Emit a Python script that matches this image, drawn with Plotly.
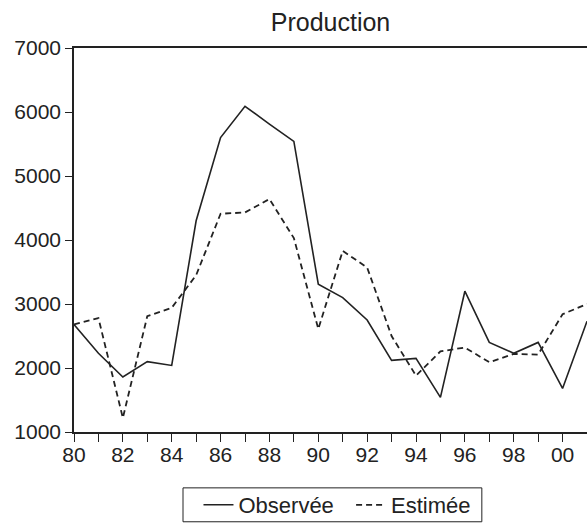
import plotly.graph_objects as go

years = list(range(1980, 2002))
observee = [2680, 2230, 1860, 2100, 2040, 4300, 5600, 6090, 5810, 5540, 3310,
            3100, 2750, 2120, 2150, 1540, 3200, 2400, 2230, 2400, 1680, 2730]
estimee = [2680, 2780, 1220, 2810, 2940, 3450, 4410, 4430, 4640, 4030, 2610,
           3830, 3570, 2500, 1880, 2260, 2320, 2090, 2220, 2210, 2840, 3000]
tick_labels = [str(y % 100).zfill(2) if y % 2 == 0 else "" for y in years]
y_ticks = [1000, 2000, 3000, 4000, 5000, 6000, 7000]

ink = "#222222"
fig = go.Figure()
fig.add_trace(go.Scatter(x=years, y=observee, mode="lines",
                         name="Observée\u00a0\u00a0",
                         line=dict(color=ink, width=1.6)))
fig.add_trace(go.Scatter(x=years, y=estimee, mode="lines", name="Estimée",
                         line=dict(color=ink, width=1.8, dash="6px,4px")))

W, H = 587, 526
fig.update_layout(
    width=W, height=H,
    margin=dict(l=74, r=0, t=48, b=93),
    paper_bgcolor="white", plot_bgcolor="white",
    font=dict(family="Liberation Sans, Arial, sans-serif", color=ink, size=21),
    title=dict(text="Production", x=0.5, xref="paper", y=1 - 22 / H,
               yref="container", xanchor="center", yanchor="middle",
               font=dict(size=25, color=ink)),
    showlegend=True,
    legend=dict(orientation="h", x=0.5136, xanchor="center", y=-0.19,
                yanchor="middle", borderwidth=0,
                font=dict(size=22, color=ink), bgcolor="rgba(0,0,0,0)"),
    shapes=[dict(type="rect", xref="paper", yref="paper",
                 x0=0.2125, x1=0.795, y0=-0.2338, y1=-0.1455,
                 line=dict(color=ink, width=1), fillcolor="rgba(0,0,0,0)",
                 layer="above")],
    xaxis=dict(range=[1980, 2001], tickvals=years, ticktext=tick_labels,
               ticks="outside", ticklen=8, tickwidth=1, tickcolor=ink,
               ticklabelstandoff=-5,
               showline=True, linecolor=ink, linewidth=1.5, mirror=True,
               showgrid=False, zeroline=False),
    yaxis=dict(range=[1000, 7000], tickvals=y_ticks,
               ticks="outside", ticklen=7, tickwidth=1, tickcolor=ink,
               showline=True, linecolor=ink, linewidth=1.5,
               showgrid=False, zeroline=False),
)

fig.write_html(
    "out.html",
    config={"displayModeBar": False},
    post_script="document.body.style.margin='0';document.body.style.overflow='hidden';",
)
